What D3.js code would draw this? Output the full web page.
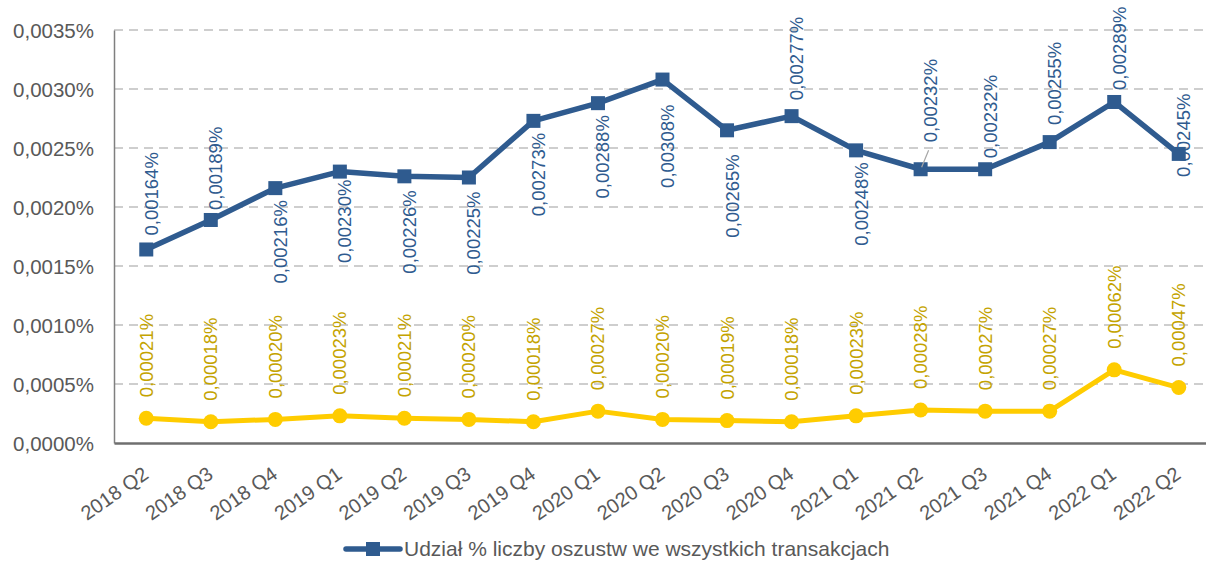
<!DOCTYPE html>
<html>
<head>
<meta charset="utf-8">
<script src="https://cdn.jsdelivr.net/npm/d3@7"></script>
<style>
  body { margin: 0; background: #fff; }
  svg { display: block; font-family: "Liberation Sans", Arial, sans-serif; }
</style>
</head>
<body>
<svg id="chart"></svg>
<script>
// Data
const quarters = ["2018 Q2","2018 Q3","2018 Q4","2019 Q1","2019 Q2","2019 Q3","2019 Q4",
  "2020 Q1","2020 Q2","2020 Q3","2020 Q4","2021 Q1","2021 Q2","2021 Q3","2021 Q4","2022 Q1","2022 Q2"];
const fraudShare = [0.00164,0.00189,0.00216,0.00230,0.00226,0.00225,0.00273,0.00288,0.00308,
  0.00265,0.00277,0.00248,0.00232,0.00232,0.00255,0.00289,0.00245];
const otherShare = [0.00021,0.00018,0.00020,0.00023,0.00021,0.00020,0.00018,0.00027,0.00020,
  0.00019,0.00018,0.00023,0.00028,0.00027,0.00027,0.00062,0.00047];
const yTicks = [0,0.0005,0.0010,0.0015,0.0020,0.0025,0.0030,0.0035];
const legendLabel = "Udział % liczby oszustw we wszystkich transakcjach";

// label placement for the blue series (a = above, b = below, c = around the point)
const blueSide = ["a","a","b","b","b","b","b","b","b","b","a","b","a","a","a","a","c"];
const blueGap  = [14,10,12,8,14,14,12,12,25,24,16,12,27,11,17,12,0];

const W = 1206, H = 561;
const margin = {top: 30, right: -5, bottom: 118, left: 114},
    width = W - margin.left - margin.right,
    height = H - margin.top - margin.bottom;

const blue = "#2f5b8f", yellow = "#ffcc00", yellowText = "#c4a300", grey = "#595959";

let svg = d3.select("#chart").attr("width", W).attr("height", H);
let g = svg.append("g").attr("transform", "translate(" + margin.left + "," + margin.top + ")");

let x = d3.scalePoint().domain(quarters).range([0, width]).padding(0.5);
let y = d3.scaleLinear().domain([0, 0.0035]).range([height, 0]);

const fmt = v => d3.format(".4f")(v).replace(".", ",") + "%";
const fmt5 = v => d3.format(".5f")(v).replace(".", ",") + "%";

// gridlines
g.append("g")
    .selectAll("line")
    .data(yTicks.filter(d => d > 0))
    .join("line")
    .attr("x1", 0).attr("x2", width)
    .attr("y1", d => y(d)).attr("y2", d => y(d))
    .attr("stroke", "#bfbfbf")
    .attr("stroke-width", 1.6)
    .attr("stroke-dasharray", "9,6");

// y axis
let yAxis = g.append("g")
    .call(d3.axisLeft(y).tickValues(yTicks).tickFormat(fmt).tickSize(0).tickPadding(20));
yAxis.select(".domain").attr("stroke", "#7f7f7f").attr("stroke-width", 1.5);
yAxis.selectAll("text").attr("fill", grey).attr("font-size", 20.5).attr("dy", "0.35em");

// x axis
let xAxis = g.append("g")
    .attr("transform", "translate(0," + height + ")")
    .call(d3.axisBottom(x).tickSize(0).tickPadding(0));
xAxis.select(".domain").attr("stroke", "#6f6f6f").attr("stroke-width", 2.5);
xAxis.selectAll("text")
    .attr("fill", grey)
    .attr("font-size", 20)
    .attr("text-anchor", "end")
    .attr("dy", 0)
    .attr("y", 0)
    .attr("transform", "translate(3,34) rotate(-35)");

// lines
let line = (vals) => d3.line()
    .x((d, i) => x(quarters[i]))
    .y(d => y(d))(vals);

g.append("path")
    .attr("d", line(otherShare))
    .attr("fill", "none")
    .attr("stroke", yellow)
    .attr("stroke-width", 5)
    .attr("stroke-linejoin", "round");

g.append("g").selectAll("circle")
    .data(otherShare)
    .join("circle")
    .attr("cx", (d, i) => x(quarters[i]))
    .attr("cy", d => y(d))
    .attr("r", 7.5)
    .attr("fill", yellow);

g.append("path")
    .attr("d", line(fraudShare))
    .attr("fill", "none")
    .attr("stroke", blue)
    .attr("stroke-width", 5.5)
    .attr("stroke-linejoin", "round");

g.append("g").selectAll("rect")
    .data(fraudShare)
    .join("rect")
    .attr("x", (d, i) => x(quarters[i]) - 7)
    .attr("y", d => y(d) - 7)
    .attr("width", 14).attr("height", 14)
    .attr("fill", blue);

// yellow labels, above the points
g.append("g").selectAll("text")
    .data(otherShare)
    .join("text")
    .attr("transform", (d, i) => "translate(" + x(quarters[i]) + "," + (y(d) - 21) + ") rotate(-90)")
    .attr("dy", "0.35em")
    .attr("font-size", 18.5)
    .attr("fill", yellowText)
    .text(fmt5);

// leader line for the 2021 Q2 label
g.append("line")
    .attr("x1", x(quarters[12]) + 1).attr("y1", y(fraudShare[12]) - 2)
    .attr("x2", x(quarters[12]) + 8).attr("y2", y(fraudShare[12]) - 19)
    .attr("stroke", "#a6a6a6").attr("stroke-width", 1.2);

// blue labels
g.append("g").selectAll("text")
    .data(fraudShare)
    .join("text")
    .attr("transform", (d, i) => {
        let dx = i === 12 ? 10 : 5;
        let yy = y(d);
        if (blueSide[i] === "a") yy -= blueGap[i];
        else if (blueSide[i] === "b") yy += blueGap[i];
        else yy += 23;
        return "translate(" + (x(quarters[i]) + dx) + "," + yy + ") rotate(-90)";
    })
    .attr("dy", "0.35em")
    .attr("text-anchor", (d, i) => blueSide[i] === "b" ? "end" : "start")
    .attr("font-size", 18.5)
    .attr("fill", blue)
    .text(fmt5);

// legend
let legend = svg.append("g").attr("transform", "translate(346,549)");
legend.append("line")
    .attr("x1", 0).attr("x2", 54)
    .attr("stroke", blue).attr("stroke-width", 5.5).attr("stroke-linecap", "round");
legend.append("rect")
    .attr("x", 20).attr("y", -7).attr("width", 14).attr("height", 14)
    .attr("fill", blue);
legend.append("text")
    .attr("x", 58).attr("dy", "0.35em")
    .attr("font-size", 21)
    .attr("fill", grey)
    .text(legendLabel);
</script>
</body>
</html>
